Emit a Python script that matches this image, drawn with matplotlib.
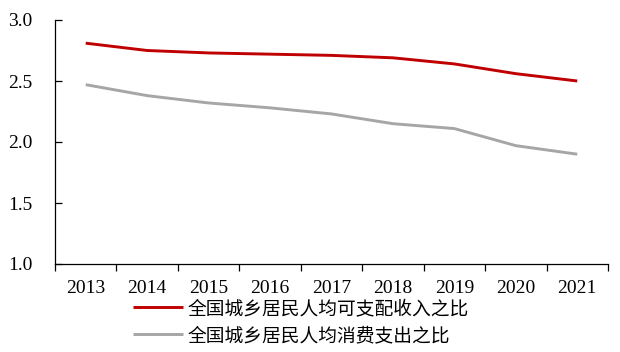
import matplotlib
matplotlib.use("Agg")
import matplotlib.pyplot as plt
import numpy as np

years = ["2013", "2014", "2015", "2016", "2017", "2018", "2019", "2020", "2021"]
income_ratio = [2.81, 2.75, 2.73, 2.72, 2.71, 2.69, 2.64, 2.56, 2.50]
consumption_ratio = [2.47, 2.38, 2.32, 2.28, 2.23, 2.15, 2.11, 1.97, 1.90]
series_names = ["全国城乡居民人均可支配收入之比", "全国城乡居民人均消费支出之比"]
yticks = [1.0, 1.5, 2.0, 2.5, 3.0]

W, H = 620, 352
fig = plt.figure(figsize=(6.2, 3.52), dpi=100)
ax = fig.add_axes([55 / W, 1 - 264 / H, 553 / W, 244 / H])

x = np.arange(len(years))
ax.plot(x, income_ratio, color="#C00000", lw=2.1, solid_joinstyle="round", solid_capstyle="butt", label=series_names[0])
ax.plot(x, consumption_ratio, color="#A6A6A6", lw=2.1, solid_joinstyle="round", solid_capstyle="butt", label=series_names[1])

ax.set_xlim(-0.5, len(years) - 0.5)
ax.set_ylim(1.0, 3.0)
ax.set_yticks(yticks)
ax.set_yticklabels([f"{v:.1f}" for v in yticks], family="Liberation Serif", fontsize=14)
ax.tick_params(axis="y", direction="in", length=5, width=0.9, pad=16)

ax.set_xticks(np.arange(len(years) + 1) - 0.5)
ax.set_xticklabels([])
ax.tick_params(axis="x", which="major", direction="out", length=5, width=0.9)
ax.set_xticks(x, minor=True)
ax.set_xticklabels(years, minor=True, family="Liberation Serif", fontsize=14)
ax.tick_params(axis="x", which="minor", length=0, pad=11.5)

for s in ["top", "right"]:
    ax.spines[s].set_visible(False)
for s in ["left", "bottom"]:
    ax.spines[s].set_linewidth(0.9)

fs = 13.5
px = fs * 100 / 72
leg = fig.legend(loc="center left", bbox_to_anchor=(133 / W, 1 - 322 / H), ncol=1, frameon=False,
                 prop={"family": "Noto Sans CJK SC", "size": fs},
                 handlelength=50 / px, handletextpad=5 / px, labelspacing=0.32,
                 borderpad=0, borderaxespad=0)

fig.savefig("out.png", dpi=100)
